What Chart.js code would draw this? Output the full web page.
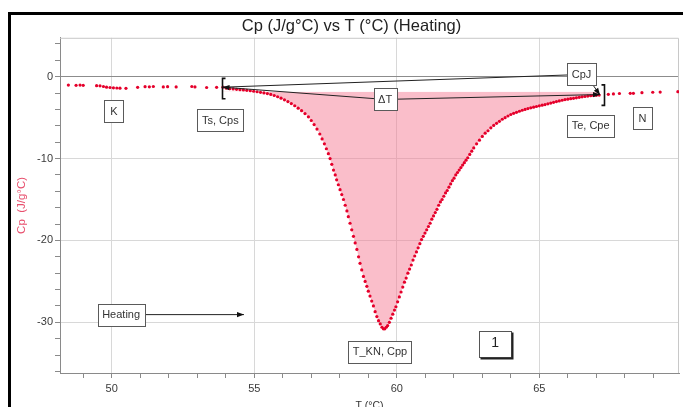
<!DOCTYPE html>
<html>
<head>
<meta charset="utf-8">
<script src="https://cdn.jsdelivr.net/npm/chart.js@4.4.1/dist/chart.umd.min.js"></script>
<style>
  html, body { margin: 0; padding: 0; background: #fff; overflow: hidden; }
  #wrap { position: relative; width: 683px; height: 407px; overflow: hidden; }
  #cpChart { position: absolute; left: 0; top: 0; }
  #frame { position: absolute; left: 8px; top: 12px; width: 800px; height: 500px;
           border-left: 3px solid #000; border-top: 3px solid #000; pointer-events: none; }
</style>
</head>
<body>
<div id="wrap">
  <canvas id="cpChart" width="683" height="416"></canvas>
  <div id="frame"></div>
</div>
<script>
// ----------------------
// DATA  (T in °C, Cp in J/g°C)
// ----------------------
const preOnset = [
  [48.48,-1.02],[48.75,-1.05],[48.89,-1.02],[49.0,-1.05],[49.47,-1.1],[49.59,-1.12],
  [49.71,-1.2],[49.82,-1.28],[49.94,-1.32],[50.06,-1.36],[50.18,-1.38],[50.29,-1.4],
  [50.5,-1.42],[50.91,-1.3],[51.17,-1.22],[51.32,-1.24],[51.46,-1.2],[51.81,-1.25],
  [51.96,-1.22],[52.26,-1.25],[52.81,-1.2],[52.92,-1.25],[53.33,-1.32],[53.68,-1.3]
];

const transition = [
  [53.9,-1.28],[54.02,-1.40],[54.14,-1.46],[54.26,-1.50],[54.38,-1.54],[54.5,-1.58],[54.62,-1.62],[54.74,-1.66],[54.86,-1.72],[54.98,-1.78],
  [55.1,-1.84],[55.22,-1.91],[55.34,-1.98],[55.46,-2.06],[55.58,-2.17],[55.7,-2.30],[55.82,-2.45],[55.94,-2.62],[56.06,-2.82],[56.18,-3.04],
  [56.3,-3.28],[56.42,-3.55],[56.54,-3.84],[56.66,-4.15],[56.78,-4.5],[56.9,-4.9],[57.0,-5.35],[57.1,-5.85],[57.2,-6.4],[57.3,-7.0],
  [57.38,-7.6],[57.46,-8.2],[57.53,-8.8],[57.6,-9.4],[57.66,-10.0],[57.72,-10.7],[57.78,-11.4],[57.84,-12.0],[57.89,-12.6],[57.95,-13.2],
  [58.01,-13.8],[58.07,-14.4],[58.13,-15.0],[58.19,-15.7],[58.25,-16.4],[58.3,-17.1],[58.36,-17.9],[58.42,-18.7],[58.48,-19.5],[58.54,-20.3],
  [58.6,-21.1],[58.66,-22.0],[58.71,-22.8],[58.77,-23.6],[58.83,-24.4],[58.89,-25.0],[58.95,-25.6],[59.0,-26.2],[59.06,-26.8],[59.12,-27.4],
  [59.18,-28.0],[59.24,-28.7],[59.3,-29.3],[59.36,-29.8],[59.42,-30.2],[59.48,-30.6],[59.53,-30.8],[59.58,-30.8],[59.63,-30.6],[59.68,-30.4],
  [59.74,-30.0],[59.8,-29.5],[59.86,-29.0],[59.92,-28.5],[59.97,-28.1],[60.03,-27.5],[60.09,-26.9],[60.15,-26.3],[60.21,-25.7],[60.27,-25.1],
  [60.33,-24.6],[60.39,-24.0],[60.45,-23.5],[60.51,-23.0],[60.57,-22.4],[60.63,-21.9],[60.69,-21.4],[60.75,-20.9],[60.81,-20.4],[60.87,-19.9],
  [60.93,-19.5],[60.99,-19.1],[61.05,-18.7],[61.11,-18.3],[61.17,-17.9],[61.23,-17.4],[61.29,-17.0],[61.35,-16.6],[61.41,-16.2],[61.47,-15.7],
  [61.53,-15.3],[61.59,-15.0],[61.65,-14.6],[61.71,-14.2],[61.77,-13.9],[61.83,-13.5],[61.89,-13.1],[61.95,-12.7],[62.01,-12.4],[62.07,-12.0],
  [62.13,-11.7],[62.19,-11.4],[62.25,-11.1],[62.31,-10.8],[62.37,-10.5],[62.43,-10.2],[62.49,-9.9],[62.56,-9.5],[62.63,-9.1],[62.7,-8.7],
  [62.8,-8.2],[62.9,-7.75],[63.0,-7.3],[63.1,-6.9],[63.2,-6.6],[63.3,-6.25],[63.4,-5.95],[63.5,-5.7],[63.6,-5.45],[63.7,-5.2],
  [63.8,-5.0],[63.9,-4.8],[64.0,-4.62],[64.1,-4.48],[64.2,-4.35],[64.3,-4.22],[64.4,-4.1],[64.5,-4.0],[64.6,-3.9],[64.7,-3.8],
  [64.8,-3.72],[64.9,-3.64],[65.0,-3.56],[65.1,-3.48],[65.2,-3.4],[65.3,-3.32],[65.4,-3.22],[65.5,-3.13],[65.6,-3.04],[65.7,-2.96],
  [65.8,-2.88],[65.9,-2.8],[66.0,-2.75],[66.1,-2.69],[66.2,-2.64],[66.3,-2.58],[66.4,-2.52],[66.5,-2.46],[66.6,-2.42],[66.7,-2.37],
  [66.8,-2.33],[66.9,-2.3],[67.0,-2.27],[67.1,-2.24]
];

const postEnd = [
  [67.42,-2.15],[67.6,-2.11],[67.81,-2.05],[68.19,-2.03],[68.3,-2.03],
  [68.6,-1.95],[68.98,-1.9],[69.24,-1.88],[69.86,-1.83]
];

// integration baseline under the peak
const fillBaseline = -1.85;

// start / end of the transition (Ts, Cps) and (Te, Cpe)
const onsetPoint = [53.92, -1.28];
const endPoint = [67.13, -2.18];

// ticks
const xTickValues = [49,50,51,52,53,54,55,56,57,58,59,60,61,62,63,64,65,66,67,68,69];
const xLabelValues = [50,55,60,65];
const yTickValues = [-36,-34,-32,-30,-28,-26,-24,-22,-20,-18,-16,-14,-12,-10,-8,-6,-4,-2,0,2,4];
const yLabelValues = [-30,-20,-10,0];

// text tags placed at data coordinates
const tags = [
  { text: 'K',          x: 50.08, y: -4.2 },
  { text: 'Ts, Cps',    x: 53.81, y: -5.35 },
  { text: '\u0394T',    x: 59.59, y: -2.78 },
  { text: 'CpJ',        x: 66.48, y: 0.27 },
  { text: 'Te, Cpe',    x: 66.8,  y: -6.0 },
  { text: 'N',          x: 68.62, y: -5.1 },
  { text: 'Heating',    x: 50.33, y: -29.06 },
  { text: 'T_KN, Cpp',  x: 59.41, y: -33.57 }
];
const runTag = { text: '1', x: 63.45, y: -32.6 };
const heatingArrowEnd = 54.64;

const FONT = "'Liberation Sans', Arial, sans-serif";
Chart.defaults.font.family = FONT;
Chart.defaults.color = '#333';

const toXY = p => ({ x: p[0], y: p[1] });
const allPoints = preOnset.concat(transition, postEnd).map(toXY);
const areaPoints = transition.map(toXY);

const findTag = t => tags.find(g => g.text === t);

// ----------------------
// DRAW HELPERS
// ----------------------
function drawArrow(ctx, x1, y1, x2, y2, len = 7, half = 2.6) {
  ctx.beginPath();
  ctx.moveTo(x1, y1);
  ctx.lineTo(x2, y2);
  ctx.stroke();
  const a = Math.atan2(y2 - y1, x2 - x1);
  const c = Math.cos(a), s = Math.sin(a);
  ctx.beginPath();
  ctx.moveTo(x2, y2);
  ctx.lineTo(x2 - len * c + half * s, y2 - len * s - half * c);
  ctx.lineTo(x2 - len * c - half * s, y2 - len * s + half * c);
  ctx.closePath();
  ctx.fill();
}

function drawTag(ctx, text, cx, cy) {
  ctx.font = `11px ${FONT}`;
  const w = Math.max(19, Math.round(ctx.measureText(text).width + 9)), h = 22;
  const l = Math.round(cx - w / 2) + 0.5, t = Math.round(cy - h / 2) + 0.5;
  ctx.fillStyle = '#fff';
  ctx.fillRect(l, t, w, h);
  ctx.strokeStyle = '#5a5a5a';
  ctx.lineWidth = 1;
  ctx.strokeRect(l, t, w, h);
  ctx.fillStyle = '#333';
  ctx.textAlign = 'center';
  ctx.textBaseline = 'middle';
  ctx.fillText(text, cx, cy + 0.5);
}

function drawBracket(ctx, x, yTop, yBot, dir) {
  ctx.beginPath();
  ctx.moveTo(x + dir * 3, yTop);
  ctx.lineTo(x, yTop);
  ctx.lineTo(x, yBot);
  ctx.lineTo(x + dir * 3, yBot);
  ctx.stroke();
}

// ----------------------
// PLUGINS
// ----------------------
const plotFrame = {
  id: 'plotFrame',
  beforeDraw(chart) {
    const { ctx } = chart;
    ctx.save();
    ctx.fillStyle = '#fff';
    ctx.fillRect(0, 0, chart.width, chart.height);
    ctx.restore();
  },
  beforeDatasetsDraw(chart) {
    const { ctx, chartArea: a } = chart;
    ctx.save();
    ctx.strokeStyle = '#c8c8c8';
    ctx.lineWidth = 1;
    ctx.beginPath();
    ctx.moveTo(a.left, a.top + 0.5);
    ctx.lineTo(a.right - 0.5, a.top + 0.5);
    ctx.lineTo(a.right - 0.5, a.bottom);
    ctx.stroke();
    ctx.restore();
  }
};

const markup = {
  id: 'markup',
  afterDatasetsDraw(chart) {
    const { ctx, scales: { x, y } } = chart;
    const px = v => x.getPixelForValue(v);
    const py = v => y.getPixelForValue(v);
    const ts = [px(onsetPoint[0]), py(onsetPoint[1])];
    const te = [px(endPoint[0]), py(endPoint[1])];
    const dT = findTag('\u0394T'), cpj = findTag('CpJ'), heat = findTag('Heating');

    ctx.save();
    ctx.strokeStyle = '#222';
    ctx.fillStyle = '#111';
    ctx.lineWidth = 1;

    // CpJ leader back to the onset
    ctx.beginPath();
    ctx.moveTo(ts[0], ts[1]);
    ctx.lineTo(px(cpj.x), py(cpj.y));
    ctx.stroke();

    // delta T leaders to both ends
    drawArrow(ctx, px(dT.x), py(dT.y), ts[0] - 1, ts[1]);
    drawArrow(ctx, px(dT.x), py(dT.y), te[0], te[1]);
    drawArrow(ctx, px(cpj.x) + 4, py(cpj.y), te[0], te[1] + 0.5);

    // heating direction
    drawArrow(ctx, px(heat.x), py(heat.y), px(heatingArrowEnd), py(heat.y));

    tags.forEach(g => drawTag(ctx, g.text, px(g.x), py(g.y)));

    // run number box
    const rx = px(runTag.x), ry = py(runTag.y);
    const l = Math.round(rx - 16) + 0.5, t = Math.round(ry - 13) + 0.5;
    ctx.fillStyle = '#fff';
    ctx.fillRect(l, t, 32, 26);
    ctx.strokeStyle = '#555';
    ctx.strokeRect(l, t, 32, 26);
    ctx.strokeStyle = '#222';
    ctx.lineWidth = 2;
    ctx.beginPath();
    ctx.moveTo(l + 1, t + 27);
    ctx.lineTo(l + 33, t + 27);
    ctx.lineTo(l + 33, t + 1);
    ctx.stroke();
    ctx.fillStyle = '#222';
    ctx.font = `14px ${FONT}`;
    ctx.textAlign = 'center';
    ctx.textBaseline = 'middle';
    ctx.fillText(runTag.text, rx, ry);

    // end brackets
    ctx.strokeStyle = '#111';
    ctx.lineWidth = 1.6;
    drawBracket(ctx, Math.round(ts[0]) - 0.5, py(-0.2), py(-2.7), 1);
    drawBracket(ctx, Math.round(px(67.26)) + 0.5, py(-1.0), py(-3.5), -1);

    ctx.restore();
  }
};

// ----------------------
// CHART
// ----------------------
const cpChart = new Chart(document.getElementById('cpChart'), {
  type: 'scatter',
  data: {
    datasets: [
      {
        label: 'Cp',
        data: allPoints,
        showLine: false,
        pointRadius: 1.6,
        pointBorderWidth: 0,
        pointBackgroundColor: '#e5002b',
        pointBorderColor: '#e5002b'
      },
      {
        label: 'area',
        type: 'line',
        data: areaPoints,
        showLine: true,
        borderWidth: 0,
        borderColor: 'rgba(0,0,0,0)',
        pointRadius: 0,
        tension: 0,
        fill: {
          target: { value: fillBaseline },
          above: 'rgba(0,0,0,0)',
          below: 'rgba(245,120,145,0.48)'
        }
      }
    ]
  },
  options: {
    responsive: false,
    animation: false,
    events: [],
    layout: { padding: { left: 24, right: 4, top: 15, bottom: 0 } },
    plugins: {
      legend: { display: false },
      tooltip: { enabled: false },
      title: {
        display: true,
        text: 'Cp (J/g°C) vs T (°C) (Heating)',
        color: '#222',
        font: { size: 16.5, weight: 'normal', lineHeight: 1.2 },
        padding: { top: 2, bottom: 1 }
      }
    },
    scales: {
      x: {
        type: 'linear',
        min: 48.186,
        max: 69.90,
        afterBuildTicks: s => { s.ticks = xTickValues.map(v => ({ value: v })); },
        afterFit: s => { s.height = 43; },
        ticks: {
          autoSkip: false,
          maxRotation: 0,
          padding: 4,
          color: '#3a3a3a',
          font: { size: 11 },
          callback: v => xLabelValues.includes(v) ? String(v) : ''
        },
        grid: {
          color: c => xLabelValues.includes(c.tick && c.tick.value) ? '#d8d8d8' : 'rgba(0,0,0,0)',
          tickColor: '#8a8a8a',
          tickLength: 5
        },
        border: { color: '#8a8a8a' },
        title: {
          display: true,
          text: 'T (°C)',
          color: '#333',
          font: { size: 10.5 },
          padding: { top: 0, bottom: 4 }
        }
      },
      y: {
        type: 'linear',
        min: -36.19,
        max: 4.75,
        afterBuildTicks: s => { s.ticks = yTickValues.map(v => ({ value: v })); },
        afterFit: s => { s.width = 36; },
        ticks: {
          autoSkip: false,
          padding: 2,
          color: '#3a3a3a',
          font: { size: 11 },
          callback: v => yLabelValues.includes(v) ? String(v) : ''
        },
        grid: {
          color: c => {
            const v = c.tick && c.tick.value;
            if (v === 0) return '#8c8c8c';
            return yLabelValues.includes(v) ? '#d8d8d8' : 'rgba(0,0,0,0)';
          },
          tickColor: '#8a8a8a',
          tickLength: 5
        },
        border: { color: '#8a8a8a' },
        title: {
          display: true,
          text: 'Cp  (J/g°C)',
          color: '#e8506e',
          font: { size: 11.5 },
          padding: { top: -9, bottom: 0 }
        }
      }
    }
  },
  plugins: [plotFrame, markup]
});
</script>
</body>
</html>
